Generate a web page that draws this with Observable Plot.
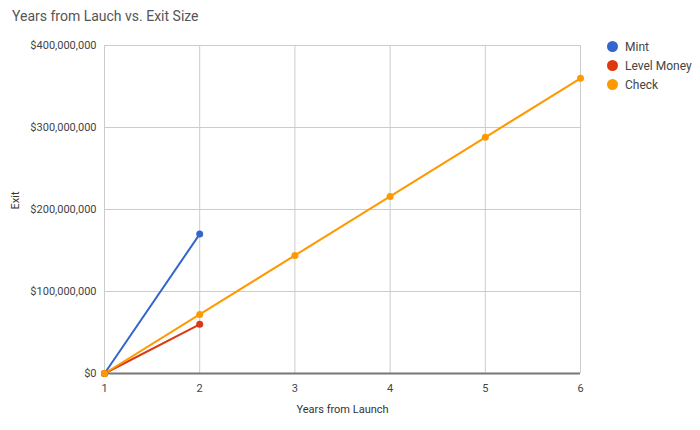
<!DOCTYPE html>
<html>
<head>
<meta charset="utf-8">
<script src="https://cdn.jsdelivr.net/npm/d3@7"></script>
<script src="https://cdn.jsdelivr.net/npm/@observablehq/plot@0.6"></script>
<style>
  body { margin: 0; background: #fff; font-family: Roboto, "Open Sans", sans-serif; }
  #wrap { position: relative; width: 700px; height: 430px; }
  #title { position: absolute; left: 12px; top: 8px; font-size: 14px; color: #555; }
  #legend { position: absolute; left: 607px; top: 37px; font-size: 12px; color: #444; }
  .li { display: flex; align-items: center; height: 19px; }
  .sw { width: 11px; height: 11px; border-radius: 50%; margin-right: 7px; }
</style>
</head>
<body>
<div id="wrap">
  <div id="title">Years from Lauch vs. Exit Size</div>
  <div id="legend"></div>
  <div id="chart"></div>
</div>
<script>
const seriesNames = ["Mint", "Level Money", "Check"];
const seriesColors = ["#3366cc", "#dc3912", "#ff9900"];
const mintYears = [1, 2];
const mintExit = [0, 170000000];
const levelYears = [1, 2];
const levelExit = [0, 60000000];
const checkYears = [1, 2, 3, 4, 5, 6];
const checkExit = [0, 72000000, 144000000, 216000000, 288000000, 360000000];
const xTicks = [1, 2, 3, 4, 5, 6];
const yTicks = [0, 100000000, 200000000, 300000000, 400000000];

const data = [];
[[mintYears, mintExit], [levelYears, levelExit], [checkYears, checkExit]].forEach(([xs, ys], i) => {
  xs.forEach((x, j) => data.push({series: seriesNames[i], year: x, exit: ys[j]}));
});

const fmt = v => "$" + d3.format(",")(v);

const plot = Plot.plot({
  width: 700,
  height: 430,
  marginLeft: 104,
  marginRight: 120,
  marginTop: 45,
  marginBottom: 57,
  style: {fontFamily: "Roboto, sans-serif", fontSize: "11px", color: "#444", background: "#fff"},
  x: {domain: [1, 6], ticks: xTicks, tickFormat: d => String(d), label: null},
  y: {domain: [0, 400000000], ticks: yTicks, tickFormat: fmt, label: null},
  color: {domain: seriesNames, range: seriesColors},
  marks: [
    Plot.gridX(xTicks, {stroke: "#ccc", strokeOpacity: 1, strokeWidth: 1}),
    Plot.gridY(yTicks, {stroke: "#ccc", strokeOpacity: 1, strokeWidth: 1}),
    Plot.axisX({ticks: xTicks, tickSize: 0, tickPadding: 11, tickFormat: d => String(d), fill: "#444", label: null}),
    Plot.axisY({ticks: yTicks, tickSize: 0, tickPadding: 8, tickFormat: fmt, fill: "#444", label: null}),
    Plot.ruleY([0], {stroke: "#777", strokeWidth: 2}),
    Plot.line(data, {x: "year", y: "exit", z: "series", stroke: "series", strokeWidth: 2}),
    Plot.dot(data, {x: "year", y: "exit", fill: "series", r: 3.5}),
    Plot.text(["Years from Launch"], {frameAnchor: "bottom", dy: 39, fill: "#333", fontSize: 11}),
    Plot.text(["Exit"], {frameAnchor: "left", dx: -89, rotate: -90, fill: "#333", fontSize: 11})
  ]
});
document.getElementById("chart").appendChild(plot);

const legend = document.getElementById("legend");
seriesNames.forEach((n, i) => {
  const d = document.createElement("div");
  d.className = "li";
  d.innerHTML = `<span class="sw" style="background:${seriesColors[i]}"></span><span>${n}</span>`;
  legend.appendChild(d);
});
</script>
</body>
</html>
